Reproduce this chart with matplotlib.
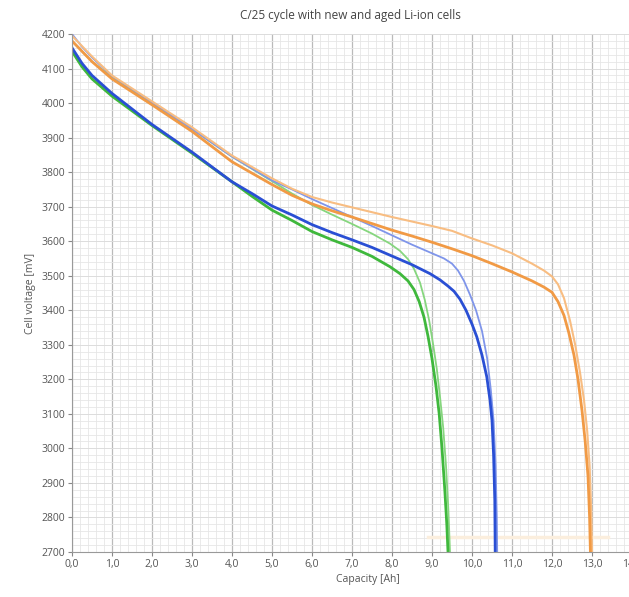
"""
C/25 discharge curves of new and aged Li-ion cells.
Writes out.png (629 x 597 px).
"""

import numpy as np
import matplotlib
matplotlib.use("Agg")
import matplotlib.pyplot as plt
from matplotlib.ticker import MultipleLocator, FixedLocator

# ──────────────────────────────────────────────────────────────
#  Data
# ──────────────────────────────────────────────────────────────
orange_light_ah = [0.0, 0.25, 0.5, 1.0, 2.0, 3.0, 4.0, 5.0, 5.5, 6.0, 6.5, 7.0, 7.5, 8.0,
                   8.5, 9.0, 9.5, 10.0, 10.5, 11.0, 11.5, 11.8, 12.0, 12.15, 12.3, 12.45,
                   12.58, 12.7, 12.8, 12.88, 12.94, 12.98, 13.0]
orange_light_mv = [4195, 4165, 4135, 4080, 4005, 3930, 3848, 3782, 3752, 3728, 3712, 3698,
                   3684, 3670, 3657, 3644, 3630, 3608, 3588, 3565, 3535, 3515, 3498, 3475,
                   3435, 3370, 3300, 3220, 3140, 3050, 2950, 2820, 2700]

orange_dark_ah = [0.0, 0.25, 0.5, 1.0, 2.0, 3.0, 4.0, 5.0, 5.5, 6.0, 6.5, 7.0, 7.5, 8.0,
                  8.5, 9.0, 9.5, 10.0, 10.5, 11.0, 11.5, 11.8, 12.0, 12.15, 12.3, 12.42,
                  12.55, 12.65, 12.75, 12.83, 12.9, 12.94, 12.96]
orange_dark_mv = [4180, 4150, 4120, 4070, 3995, 3918, 3830, 3764, 3733, 3708, 3688, 3670,
                  3651, 3632, 3615, 3597, 3578, 3558, 3535, 3511, 3485, 3467, 3452, 3425,
                  3385, 3335, 3270, 3200, 3110, 3020, 2920, 2800, 2700]

blue_light_ah = [0.0, 0.25, 0.5, 1.0, 2.0, 3.0, 4.0, 5.0, 5.5, 6.0, 6.5, 7.0, 7.5, 8.0,
                 8.5, 9.0, 9.3, 9.5, 9.65, 9.8, 9.95, 10.1, 10.25, 10.38, 10.47, 10.54,
                 10.59, 10.62, 10.63]
blue_light_mv = [4200, 4163, 4132, 4078, 4002, 3925, 3845, 3776, 3750, 3722, 3696, 3670,
                 3644, 3617, 3590, 3565, 3550, 3535, 3515, 3485, 3445, 3400, 3340, 3260,
                 3170, 3080, 2950, 2800, 2700]

blue_dark_ah = [0.0, 0.25, 0.5, 1.0, 2.0, 3.0, 4.0, 4.5, 5.0, 5.5, 6.0, 6.5, 7.0, 7.5,
                8.0, 8.5, 8.95, 9.2, 9.4, 9.55, 9.7, 9.85, 10.0, 10.12, 10.25, 10.37,
                10.45, 10.5, 10.54, 10.57, 10.58]
blue_dark_mv = [4160, 4115, 4080, 4028, 3938, 3858, 3772, 3738, 3702, 3676, 3648, 3625,
                3604, 3582, 3557, 3532, 3506, 3488, 3470, 3455, 3432, 3400, 3360, 3323,
                3270, 3207, 3140, 3081, 2980, 2850, 2700]

green_light_ah = [0.0, 0.25, 0.5, 1.0, 2.0, 3.0, 4.0, 5.0, 5.5, 6.0, 6.5, 7.0, 7.5, 7.95,
                  8.2, 8.4, 8.55, 8.7, 8.82, 8.93, 9.03, 9.12, 9.2, 9.28, 9.35, 9.41, 9.45]
green_light_mv = [4180, 4150, 4120, 4075, 3998, 3925, 3845, 3774, 3738, 3705, 3677, 3650,
                  3622, 3593, 3572, 3548, 3520, 3480, 3430, 3370, 3300, 3230, 3150, 3060,
                  2950, 2820, 2700]

green_dark_ah = [0.0, 0.25, 0.5, 1.0, 2.0, 3.0, 4.0, 4.5, 5.0, 5.5, 6.0, 6.5, 7.0, 7.5,
                 7.95, 8.2, 8.4, 8.55, 8.68, 8.8, 8.9, 9.0, 9.1, 9.18, 9.25, 9.32, 9.37, 9.4]
green_dark_mv = [4150, 4105, 4070, 4020, 3935, 3855, 3772, 3730, 3690, 3660, 3628, 3604,
                 3582, 3556, 3526, 3506, 3485, 3460, 3425, 3380, 3325, 3260, 3180, 3100,
                 3000, 2880, 2780, 2700]

# faint trace just above the lower axis
faint_ah = [8.9, 13.4]
faint_mv = [2742, 2742]

X_TICKS = np.arange(0, 15, 1)
X_TICK_LABELS = [f"{v:.1f}".replace(".", ",") for v in X_TICKS]
Y_TICKS = np.arange(2700, 4201, 100)

# ──────────────────────────────────────────────────────────────
#  Figure
# ──────────────────────────────────────────────────────────────
plt.rcParams["font.family"] = ["Open Sans", "DejaVu Sans"]

fig = plt.figure(figsize=(6.29, 5.97), dpi=100)
ax = fig.add_axes([72 / 629, 45 / 597, 592 / 629, 518 / 597])

ax.set_xlim(0, 14.8)
ax.set_ylim(2700, 4200)

# grid
ax.xaxis.set_major_locator(FixedLocator(X_TICKS))
ax.xaxis.set_minor_locator(MultipleLocator(0.2))
ax.yaxis.set_major_locator(FixedLocator(Y_TICKS))
ax.yaxis.set_minor_locator(MultipleLocator(20))
ax.grid(which="minor", color="#e6e6e6", linewidth=0.6)
ax.grid(which="major", axis="y", color="#dcdcdc", linewidth=0.7)
ax.grid(which="major", axis="x", color="#bababa", linewidth=0.9)
ax.set_axisbelow(True)

ax.plot(faint_ah, faint_mv, color="#fbeedd", linewidth=2.5)

ax.plot(green_light_ah, green_light_mv, color="#86d67e", linewidth=1.3)
ax.plot(green_dark_ah, green_dark_mv, color="#3fb83c", linewidth=2.0)
ax.plot(blue_light_ah, blue_light_mv, color="#7f95ea", linewidth=1.3)
ax.plot(blue_dark_ah, blue_dark_mv, color="#2a4fd4", linewidth=2.0)
ax.plot(orange_light_ah, orange_light_mv, color="#f8bd82", linewidth=1.5)
ax.plot(orange_dark_ah, orange_dark_mv, color="#f19a45", linewidth=2.0)

ax.set_xticklabels(X_TICK_LABELS)
ax.tick_params(which="major", length=3, color="#888888", labelsize=7.5,
               labelcolor="#555555", pad=2)
ax.tick_params(which="minor", length=0)

for side in ("top", "right"):
    ax.spines[side].set_visible(False)
for side in ("left", "bottom"):
    ax.spines[side].set_color("#999999")
    ax.spines[side].set_linewidth(0.8)

ax.set_xlabel("Capacity [Ah]", fontsize=7.5, color="#555555", labelpad=3)
ax.set_ylabel("Cell voltage [mV]", fontsize=7.5, color="#555555", labelpad=4)

fig.text(350 / 629, 1 - 15 / 597, "C/25 cycle with new and aged Li-ion cells",
         ha="center", va="center", fontsize=8.5, color="#444444")

fig.savefig("out.png", dpi=100)
